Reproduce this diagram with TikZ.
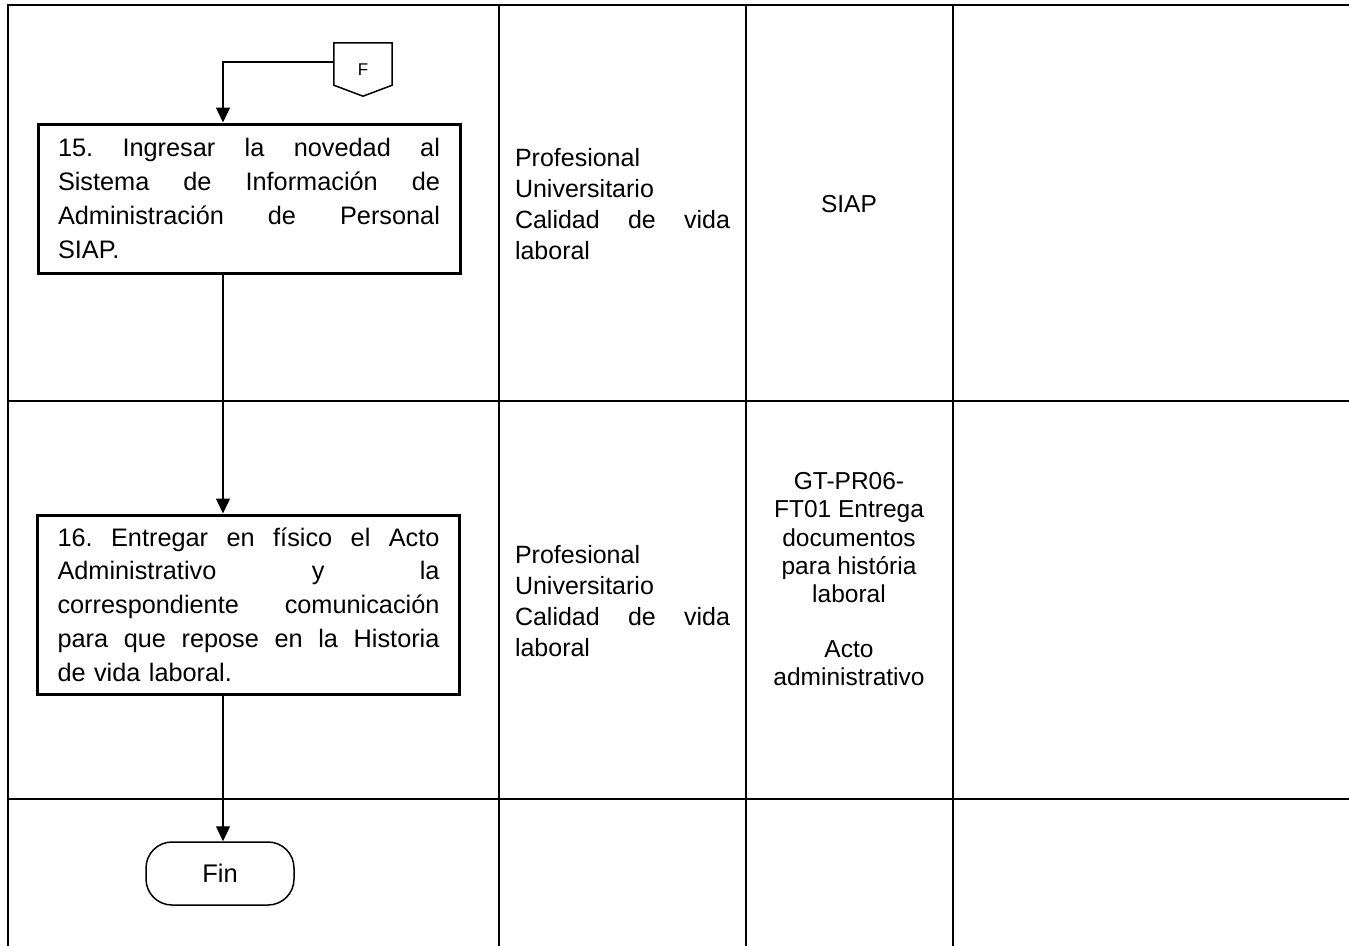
\documentclass[tikz,border=0pt]{standalone}
\usepackage{fontspec}
\setmainfont{Liberation Sans}
\usetikzlibrary{arrows.meta}
\begin{document}
\begin{tikzpicture}[x=1pt,y=-1pt,
  tbl/.style={line width=2.2pt},
  procbox/.style={draw,line width=3pt,inner xsep=20pt,inner ysep=0pt,align=left,
    font=\fontsize{25.3}{33.7}\selectfont},
  lanetext/.style={inner sep=0pt,align=left,text width=215pt,font=\fontsize{25}{31}\selectfont},
  doctext/.style={inner sep=0pt,align=center,font=\fontsize{24.5}{28.3}\selectfont},
  flow/.style={line width=1.3pt,-{Triangle[width=14pt,length=15pt]}},
  termbox/.style={draw,line width=1.5pt,rounded corners=26pt,minimum width=148pt,minimum height=63pt,
    font=\fontsize{25.5}{30}\selectfont}
]
\useasboundingbox (0,0) rectangle (1349,945);
% table grid
\draw[tbl] (8,946) -- (8,5) -- (1350,5);
\draw[tbl] (499,5) -- (499,946);
\draw[tbl] (746,5) -- (746,946);
\draw[tbl] (953,5) -- (953,946);
\draw[tbl] (8,401) -- (1350,401);
\draw[tbl] (8,799) -- (1350,799);
% lane coordinate
\coordinate (lane) at (223,0);
% off-page connector F
\node[minimum width=58pt,minimum height=53pt,inner sep=0pt,font=\fontsize{17}{19}\selectfont] (F) at (363,69.5) {F};
\draw[line width=1.5pt] (F.north west) -- (F.north east) -- ([yshift=11pt]F.south east) -- (F.south) -- ([yshift=11pt]F.south west) -- cycle;
% process boxes
\node[procbox,text width=382pt,minimum height=149pt] (b15) at (249,198.5)
 {15.\hfill Ingresar\hfill la\hfill novedad\hfill al\\
  Sistema\hfill de\hfill Información\hfill de\\
  Administración\hfill de\hfill Personal\\
  SIAP.};
\node[procbox,text width=382pt,minimum height=179pt] (b16) at (248.5,604.5)
 {16.\hfill Entregar\hfill en\hfill físico\hfill el\hfill Acto\\
  Administrativo\hfill y\hfill la\\
  correspondiente\hfill comunicación\\
  para\hfill que\hfill repose\hfill en\hfill la\hfill Historia\\
  de vida laboral.};
\node[termbox] (fin) at (220,873.5) {Fin};
% responsible column
\node[lanetext] (r15) at (622.5,204) {Profesional\\Universitario\\Calidad\hfill de\hfill vida\\laboral};
\node[lanetext] (r16) at (622.5,601) {Profesional\\Universitario\\Calidad\hfill de\hfill vida\\laboral};
% documents column
\node[doctext] (d15) at (849,204) {SIAP};
\node[doctext] (d16) at (849,579) {GT-PR06-\\FT01 Entrega\\documentos\\para história\\laboral\\[26pt]Acto\\administrativo};
% connectors
\draw[flow] ([yshift=7.5pt]F.west) -| (lane |- b15.north);
\draw[flow] (lane |- b15.south) -- (lane |- b16.north);
\draw[flow] (lane |- b16.south) -- (lane |- fin.north);
\end{tikzpicture}
\end{document}
